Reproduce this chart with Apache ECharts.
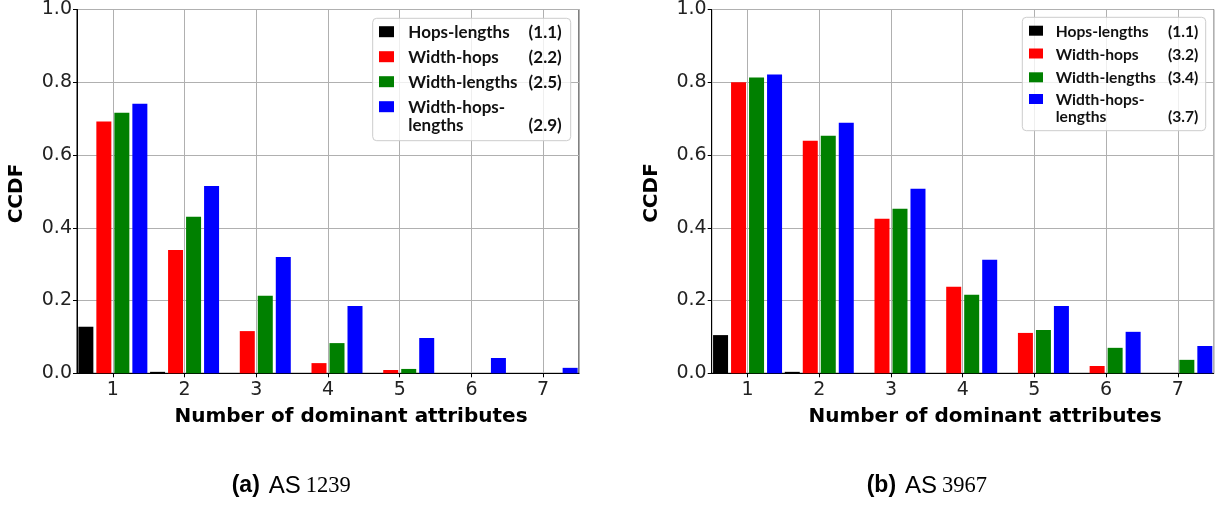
<!DOCTYPE html>
<html>
<head>
<meta charset="utf-8">
<script src="https://cdn.jsdelivr.net/npm/echarts@6/dist/echarts.min.js"></script>
<style>
  html, body { margin: 0; padding: 0; background: #fff; }
  #chart { width: 1218px; height: 507px; }
</style>
</head>
<body>
<div id="chart"></div>
<script>
// Number of dominant attributes (x categories)
const categories = ['1', '2', '3', '4', '5', '6', '7'];

// Series names and colours
const seriesNames = ['Hops-lengths', 'Width-hops', 'Width-lengths', 'Width-hops-lengths'];
const seriesColors = ['#000000', '#ff0000', '#008000', '#0000ff'];

// AS 1239 CCDF values
const hopsLengthsA       = [0.128, 0.004, 0, 0, 0, 0, 0];
const widthHopsA         = [0.692, 0.339, 0.116, 0.028, 0.009, 0, 0];
const widthLengthsA      = [0.716, 0.430, 0.213, 0.083, 0.012, 0, 0];
const widthHopsLengthsA  = [0.741, 0.515, 0.320, 0.185, 0.097, 0.042, 0.015];
const scoresA = ['(1.1)', '(2.2)', '(2.5)', '(2.9)'];

// AS 3967 CCDF values
const hopsLengthsB       = [0.105, 0.004, 0, 0, 0, 0, 0];
const widthHopsB         = [0.800, 0.639, 0.425, 0.238, 0.111, 0.020, 0];
const widthLengthsB      = [0.813, 0.653, 0.452, 0.216, 0.119, 0.070, 0.037];
const widthHopsLengthsB  = [0.821, 0.689, 0.507, 0.312, 0.185, 0.114, 0.075];
const scoresB = ['(1.1)', '(3.2)', '(3.4)', '(3.7)'];

const yTicks = [0, 0.2, 0.4, 0.6, 0.8, 1.0];

const panelA = [hopsLengthsA, widthHopsA, widthLengthsA, widthHopsLengthsA];
const panelB = [hopsLengthsB, widthHopsB, widthLengthsB, widthHopsLengthsB];

const FONT = 'DejaVu Sans';
const gridColor = '#b0b0b0';

function categoryAxis(gridIndex) {
  return {
    type: 'category', gridIndex: gridIndex, data: categories,
    boundaryGap: true,
    axisLine: { show: true, lineStyle: { color: '#000', width: 1 } },
    axisTick: { show: true, alignWithLabel: true, length: 4, lineStyle: { color: '#000' } },
    axisLabel: { fontFamily: FONT, fontSize: 19, color: '#222', margin: 7 },
    splitLine: { show: false }
  };
}
// vertical grid lines at the category centres
function gridLineAxis(gridIndex) {
  return {
    type: 'value', gridIndex: gridIndex, min: 0.5, max: categories.length + 0.5,
    splitNumber: categories.length,
    axisLine: { show: false }, axisTick: { show: false }, axisLabel: { show: false },
    splitLine: { show: true, lineStyle: { color: gridColor, width: 1 } }
  };
}
function valueAxis(gridIndex) {
  return {
    type: 'value', gridIndex: gridIndex,
    min: yTicks[0], max: yTicks[yTicks.length - 1], interval: 0.2,
    axisLine: { show: true, lineStyle: { color: '#000', width: 1 } },
    axisTick: { show: true, length: 4, lineStyle: { color: '#000' } },
    axisLabel: { fontFamily: FONT, fontSize: 19, color: '#222', margin: 5,
                 formatter: v => v.toFixed(1) },
    splitLine: { show: true, lineStyle: { color: gridColor, width: 1 } }
  };
}

function barSeries(values, i, xAxisIndex, yAxisIndex) {
  return {
    type: 'bar', name: seriesNames[i], data: values,
    xAxisIndex: xAxisIndex, yAxisIndex: yAxisIndex,
    barWidth: 15, barGap: '20%',
    itemStyle: { color: seriesColors[i] },
    z: 3
  };
}

// hand-drawn legend box with right-aligned scores
function legendBlock(cfg, scores) {
  const Z = 100;
  const font = 'bold ' + cfg.fs + 'px Lato';
  const children = [];
  children.push({
    type: 'rect', z: Z,
    shape: { x: cfg.x, y: cfg.y, width: cfg.w, height: cfg.h, r: 4 },
    style: { fill: 'rgba(255,255,255,0.8)', stroke: '#cccccc', lineWidth: 1 }
  });
  seriesNames.forEach((name, i) => {
    const cy = cfg.rows[i];
    children.push({
      type: 'rect', z: Z + 1,
      shape: { x: cfg.sqX, y: cy - cfg.sqH / 2 - 1, width: cfg.sqW, height: cfg.sqH },
      style: { fill: seriesColors[i] }
    });
    const parts = name === 'Width-hops-lengths' ? ['Width-hops-', 'lengths'] : [name];
    parts.forEach((p, k) => {
      children.push({
        type: 'text', z: Z + 1,
        style: { x: cfg.textX, y: k === 0 ? cy : cfg.line2, text: p,
                 font: font, fill: '#111',
                 textAlign: 'left', textVerticalAlign: 'middle' }
      });
    });
    children.push({
      type: 'text', z: Z + 1,
      style: { x: cfg.valX, y: parts.length > 1 ? cfg.line2 : cy, text: scores[i],
               font: font, fill: '#111',
               textAlign: 'right', textVerticalAlign: 'middle' }
    });
  });
  return { type: 'group', children: children };
}

const legendA = legendBlock({ x: 372.7, y: 18.3, w: 198, h: 122.4, sqX: 379, sqW: 15, sqH: 11,
  rows: [32.7, 57.7, 82.7, 107.7], line2: 126, textX: 408.3, valX: 561.7, fs: 17 }, scoresA);
const legendB = legendBlock({ x: 1022.3, y: 17.3, w: 183.4, h: 113.4, sqX: 1029, sqW: 14, sqH: 10,
  rows: [31.7, 54.5, 78.3, 100], line2: 116.7, textX: 1055.7, valX: 1198.3, fs: 15.6 }, scoresB);

function axisTitle(x, y, text, rotate) {
  return {
    type: 'text', x: x, y: y, rotation: rotate ? Math.PI / 2 : 0,
    style: { text: text, font: 'bold 20px "DejaVu Sans"', fill: '#000',
             textAlign: 'center', textVerticalAlign: 'middle' }
  };
}
function caption(x, y, tag, as) {
  return {
    type: 'text', x: x, y: y,
    style: {
      text: '{t|' + tag + '}{a|AS}{n|' + as + '}',
      textVerticalAlign: 'middle',
      rich: {
        t: { fontFamily: 'Liberation Sans', fontWeight: 'bold', fontSize: 23, fill: '#000' },
        a: { fontFamily: 'Liberation Sans', fontSize: 24, fill: '#000', padding: [0, 0, 0, 9] },
        n: { fontFamily: 'Liberation Serif', fontSize: 22.5, fill: '#000', padding: [0, 0, 0, 5] }
      }
    }
  };
}

const option = {
  animation: false,
  backgroundColor: '#fff',
  grid: [
    { left: 77, top: 9.5, width: 502, height: 363.8, show: true, borderColor: '#000', borderWidth: 1, backgroundColor: 'transparent' },
    { left: 711.7, top: 9.5, width: 502, height: 363.8, show: true, borderColor: '#000', borderWidth: 1, backgroundColor: 'transparent' }
  ],
  xAxis: [categoryAxis(0), gridLineAxis(0), categoryAxis(1), gridLineAxis(1)],
  yAxis: [valueAxis(0), valueAxis(1)],
  series: [
    ...panelA.map((vals, i) => barSeries(vals, i, 0, 0)),
    ...panelB.map((vals, i) => barSeries(vals, i, 2, 1))
  ],
  graphic: [
    legendA, legendB,
    axisTitle(351, 417, 'Number of dominant attributes', false),
    axisTitle(985, 417, 'Number of dominant attributes', false),
    axisTitle(17, 193.5, 'CCDF', true),
    axisTitle(651.7, 193, 'CCDF', true),
    caption(231.7, 486, '(a)', '1239'),
    caption(866.7, 486, '(b)', '3967')
  ]
};

const chart = echarts.init(document.getElementById('chart'), null, { renderer: 'canvas' });
chart.setOption(option);
</script>
</body>
</html>
